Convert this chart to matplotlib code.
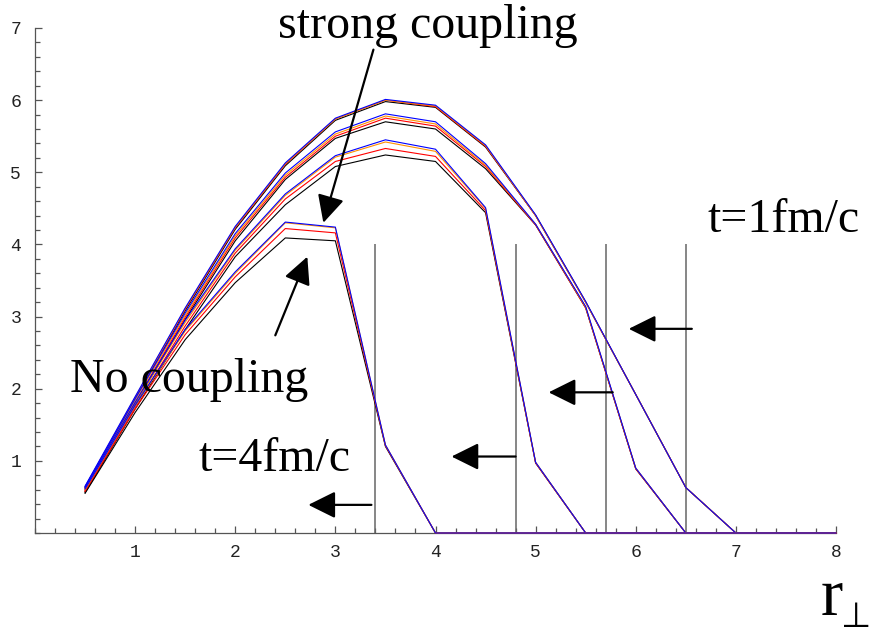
# -*- coding: utf-8 -*-
"""
Transverse profiles at t = 1..4 fm/c for several couplings
"""
import matplotlib
matplotlib.use("Agg")
import matplotlib.pyplot as plt
from matplotlib.ticker import MultipleLocator

serif = ["Liberation Serif", "DejaVu Serif"]
mono = ["Liberation Mono", "DejaVu Sans Mono"]

r_perp = [0.5, 1.0, 1.5, 2.0, 2.5, 3.0, 3.5, 4.0,
          4.5, 5.0, 5.5, 6.0, 6.5, 7.0, 7.5, 8.0]

couplings = ["none", "weak", "medium", "strong"]
colors = ["black", "#ff0000", "#ff9000", "#0000ff"]

# t = 1 fm/c
t1 = [
    [0.62, 1.86, 3.08, 4.21, 5.09, 5.72, 5.98, 5.90, 5.35, 4.40, 3.20, 1.92, 0.63, 0, 0, 0],
    [0.63, 1.87, 3.10, 4.23, 5.11, 5.74, 6.00, 5.91, 5.36, 4.40, 3.20, 1.92, 0.63, 0, 0, 0],
    [0.64, 1.88, 3.11, 4.24, 5.12, 5.74, 6.00, 5.92, 5.37, 4.40, 3.20, 1.92, 0.63, 0, 0, 0],
    [0.65, 1.89, 3.12, 4.25, 5.13, 5.75, 6.01, 5.93, 5.38, 4.41, 3.21, 1.92, 0.63, 0, 0, 0],
]
# t = 2 fm/c
t2 = [
    [0.58, 1.78, 2.96, 4.05, 4.90, 5.47, 5.70, 5.60, 5.05, 4.27, 3.12, 0.89, 0, 0, 0, 0],
    [0.60, 1.81, 2.99, 4.09, 4.93, 5.50, 5.75, 5.64, 5.08, 4.27, 3.12, 0.89, 0, 0, 0, 0],
    [0.62, 1.84, 3.02, 4.12, 4.96, 5.53, 5.78, 5.67, 5.10, 4.28, 3.13, 0.90, 0, 0, 0, 0],
    [0.64, 1.86, 3.05, 4.15, 4.99, 5.56, 5.81, 5.70, 5.12, 4.28, 3.14, 0.90, 0, 0, 0, 0],
]
# t = 3 fm/c
t3 = [
    [0.56, 1.72, 2.82, 3.83, 4.55, 5.08, 5.24, 5.15, 4.44, 0.97, 0, 0, 0, 0, 0, 0],
    [0.58, 1.75, 2.87, 3.88, 4.63, 5.15, 5.33, 5.22, 4.47, 0.97, 0, 0, 0, 0, 0, 0],
    [0.61, 1.79, 2.92, 3.92, 4.68, 5.21, 5.42, 5.29, 4.50, 0.98, 0, 0, 0, 0, 0, 0],
    [0.63, 1.81, 2.95, 3.94, 4.70, 5.23, 5.45, 5.32, 4.51, 0.98, 0, 0, 0, 0, 0, 0],
]
# t = 4 fm/c
t4 = [
    [0.55, 1.67, 2.68, 3.47, 4.09, 4.05, 1.20, 0, 0, 0, 0, 0, 0, 0, 0, 0],
    [0.58, 1.72, 2.75, 3.55, 4.22, 4.16, 1.21, 0, 0, 0, 0, 0, 0, 0, 0, 0],
    [0.60, 1.76, 2.80, 3.60, 4.30, 4.23, 1.22, 0, 0, 0, 0, 0, 0, 0, 0, 0],
    [0.61, 1.77, 2.82, 3.62, 4.31, 4.24, 1.22, 0, 0, 0, 0, 0, 0, 0, 0, 0],
]

# front positions (vertical markers) and arrows
fronts = [3.4, 4.8, 5.7, 6.5]
arrow_tails = [(3.36, 0.39), (4.80, 1.06), (5.77, 1.95), (6.56, 2.83)]
arrow_tips = [(2.73, 0.39), (4.16, 1.06), (5.13, 1.95), (5.93, 2.83)]

W, H = 872, 635
fig = plt.figure(figsize=(W/100, H/100), dpi=100)
ax = fig.add_axes([35/W, 102/H, 801/W, 505/H])

for group in [t1, t2, t3, t4]:
    for vals, col in zip(group, colors):
        ax.plot(r_perp, vals, color=col, lw=0.8, clip_on=False, zorder=3)

ax.vlines(fronts, 0, 4.0, color="#666666", lw=1.1, zorder=2)

head = dict(arrowstyle="-|>,head_length=1.45,head_width=0.72",
            mutation_scale=11.5, color="black", lw=1.6,
            shrinkA=0, shrinkB=0)
for tail, tip in zip(arrow_tails, arrow_tips):
    ax.annotate("", xy=tip, xytext=tail, arrowprops=head, zorder=4)

# labelled arrows
ax.annotate("", xy=(2.88, 4.30), xytext=(3.38, 6.70), arrowprops=head, zorder=4)
ax.annotate("", xy=(2.72, 3.83), xytext=(2.40, 2.74), arrowprops=head, zorder=4)

ax.set_xlim(0, 8)
ax.set_ylim(0, 7)
ax.set_xticks(range(1, 9))
ax.set_yticks(range(1, 8))
ax.xaxis.set_minor_locator(MultipleLocator(0.2))
ax.yaxis.set_minor_locator(MultipleLocator(0.2))
ax.tick_params(which="both", direction="in", color="#555555", width=0.9,
               labelsize=13, labelcolor="#222222", labelfontfamily=mono)
ax.tick_params(which="major", length=5.2)
ax.tick_params(which="minor", length=3.5)
ax.tick_params(axis="x", pad=8)
ax.tick_params(axis="y", pad=10)

for side in ["top", "right"]:
    ax.spines[side].set_visible(False)
for side in ["left", "bottom"]:
    ax.spines[side].set_color("#555555")
    ax.spines[side].set_linewidth(0.9)

big = dict(family=serif, fontsize=34.5, color="black")
fig.text(428/W, 1 - 38/H, "strong coupling", ha="center", va="baseline", **big)
fig.text(784/W, 1 - 232/H, "t=1fm/c", ha="center", va="baseline", **big)
fig.text(189/W, 1 - 392/H, "No coupling", ha="center", va="baseline", **big)
fig.text(274/W, 1 - 471/H, "t=4fm/c", ha="center", va="baseline", **big)
fig.text(832/W, 1 - 615/H, "r", ha="center", va="baseline",
         family=serif, fontsize=48)
fig.text(856/W, 1 - 634/H, "\u22a5", ha="center", va="bottom",
         family=["DejaVu Sans"], fontsize=25)

fig.savefig("out.png", dpi=100)
